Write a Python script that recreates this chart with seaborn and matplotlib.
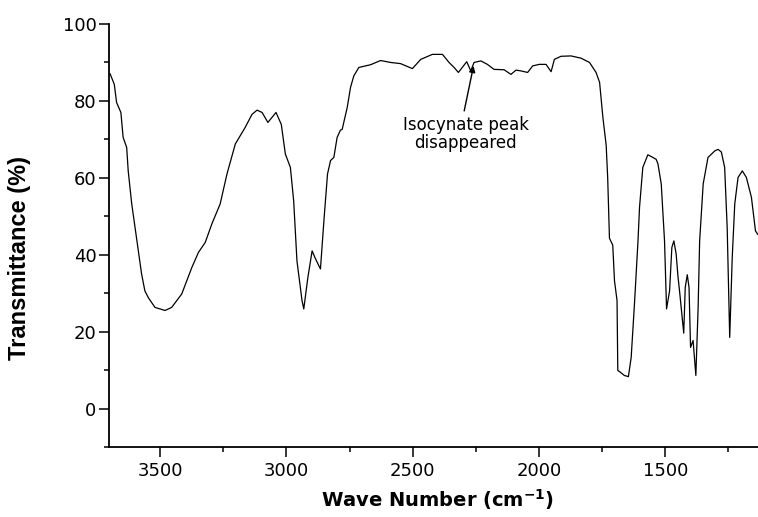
import numpy as np
import pandas as pd
import matplotlib
matplotlib.use('Agg')
import matplotlib.pyplot as plt
import seaborn as sns

# FTIR 光谱数据
wavenumber = [3698, 3681, 3672, 3655, 3646, 3632, 3626, 3612, 3599, 3586,
              3573, 3560, 3546, 3520, 3480, 3454, 3414, 3374, 3348, 3321,
              3295, 3262, 3235, 3202, 3163, 3136, 3116, 3096, 3073, 3041,
              3020, 3004, 2984, 2971, 2958, 2938, 2931, 2915, 2898, 2885,
              2865, 2850, 2837, 2825, 2812, 2799, 2786, 2779, 2759, 2746,
              2733, 2713, 2693, 2667, 2627, 2587, 2548, 2501, 2468, 2422,
              2382, 2356, 2336, 2319, 2299, 2286, 2270, 2257, 2230, 2204,
              2178, 2138, 2111, 2091, 2071, 2045, 2025, 1999, 1972, 1952,
              1939, 1913, 1873, 1833, 1800, 1774, 1760, 1747, 1734, 1728,
              1721, 1708, 1701, 1691, 1688, 1677, 1662, 1646, 1635, 1622,
              1608, 1602, 1589, 1569, 1549, 1536, 1529, 1516, 1503, 1495,
              1483, 1474, 1466, 1457, 1450, 1443, 1427, 1421, 1413, 1406,
              1400, 1390, 1379, 1370, 1364, 1350, 1331, 1304, 1291, 1278,
              1265, 1255, 1245, 1235, 1225, 1212, 1195, 1179, 1159, 1143,
              1133]
transmittance = [87.1, 84.3, 79.6, 77.0, 70.5, 67.9, 61.8, 53.2, 47.1, 41.0,
                 35.0, 30.6, 28.8, 26.3, 25.5, 26.3, 29.8, 36.7, 40.6, 43.2,
                 48.0, 53.2, 61.0, 68.8, 73.1, 76.5, 77.6, 77.0, 74.4, 77.0,
                 73.9, 66.2, 62.7, 54.0, 38.4, 28.1, 25.9, 34.0, 41.0, 39.0,
                 36.3, 50.0, 61.0, 64.5, 65.3, 70.5, 72.4, 72.6, 78.3, 83.5,
                 86.5, 88.7, 89.0, 89.4, 90.5, 90.0, 89.7, 88.4, 90.8, 92.1,
                 92.1, 90.0, 88.7, 87.4, 89.1, 90.2, 87.8, 90.0, 90.4, 89.5,
                 88.2, 88.1, 86.9, 88.0, 87.8, 87.4, 89.1, 89.5, 89.5, 87.6,
                 90.8, 91.6, 91.7, 91.1, 90.0, 87.4, 84.8, 75.7, 68.5, 60.0,
                 44.3, 42.5, 33.2, 28.1, 9.9, 9.4, 8.6, 8.3, 13.3, 27.2,
                 43.6, 52.3, 62.7, 66.0, 65.3, 64.8, 63.6, 58.4, 43.6, 25.9,
                 30.6, 41.9, 43.6, 40.2, 34.5, 30.2, 19.6, 31.5, 34.8, 31.5,
                 15.9, 17.7, 8.6, 26.3, 43.6, 58.4, 65.3, 67.0, 67.4, 66.7,
                 62.7, 47.1, 18.5, 39.3, 53.2, 60.1, 61.8, 60.1, 54.9, 46.2,
                 45.2]

x_ticks = [3500, 3000, 2500, 2000, 1500]
y_ticks = [0, 20, 40, 60, 80, 100]

annot_text = 'Isocynate peak\ndisappeared'
arrow_tip = (2259, 89.1)
arrow_tail = (2296, 77.4)
text_pos = (2290, 71.3)

df = pd.DataFrame({'wn': wavenumber, 'T': transmittance})

sns.set_style('ticks')
plt.rcParams['font.family'] = ['DejaVu Sans']
plt.rcParams['text.color'] = 'black'
plt.rcParams['axes.labelcolor'] = 'black'
plt.rcParams['xtick.color'] = 'black'
plt.rcParams['ytick.color'] = 'black'
plt.rcParams['axes.edgecolor'] = 'black'

fig = plt.figure(figsize=(7.58, 5.17), dpi=100)
ax = fig.add_axes([109 / 758, 70 / 517, 649 / 758, 423 / 517])

sns.lineplot(data=df, x='wn', y='T', sort=False, estimator=None,
             color='black', linewidth=0.9, ax=ax)

ax.set_xlim(3702, 1133)
ax.set_ylim(-10, 100)
ax.set_xticks(x_ticks)
ax.set_yticks(y_ticks)
ax.set_xticks(np.arange(1250, 3750, 500), minor=True)
ax.set_yticks(np.arange(-10, 100, 20), minor=True)

for s in ['top', 'right']:
    ax.spines[s].set_visible(False)
for s in ['left', 'bottom']:
    ax.spines[s].set_linewidth(1.3)

ax.tick_params(which='major', direction='out', length=7.5, width=1.1,
               labelsize=13, labelcolor='black', pad=3)
ax.tick_params(which='minor', direction='out', length=3.8, width=1.1)
ax.tick_params(axis='y', pad=1.5)

ax.set_xlabel('Wave Number (cm$^{\\mathbf{-1}}$)', fontsize=14, fontweight='bold',
              color='black')
ax.set_ylabel('Transmittance (%)', fontsize=17, fontweight='bold', color='black',
              family=['Liberation Sans', 'DejaVu Sans'])
ax.xaxis.set_label_coords(0.507, -0.094)
ax.yaxis.set_label_coords(-0.12, 0.447)

ax.annotate('', xy=arrow_tip, xytext=arrow_tail,
            arrowprops=dict(arrowstyle='-|>', color='black', lw=1.0,
                            mutation_scale=9, shrinkA=0, shrinkB=0))
ax.text(text_pos[0], text_pos[1], annot_text, fontsize=12, ha='center',
        va='center', multialignment='center', linespacing=1.0, color='black')

fig.savefig('out.png', dpi=100)
